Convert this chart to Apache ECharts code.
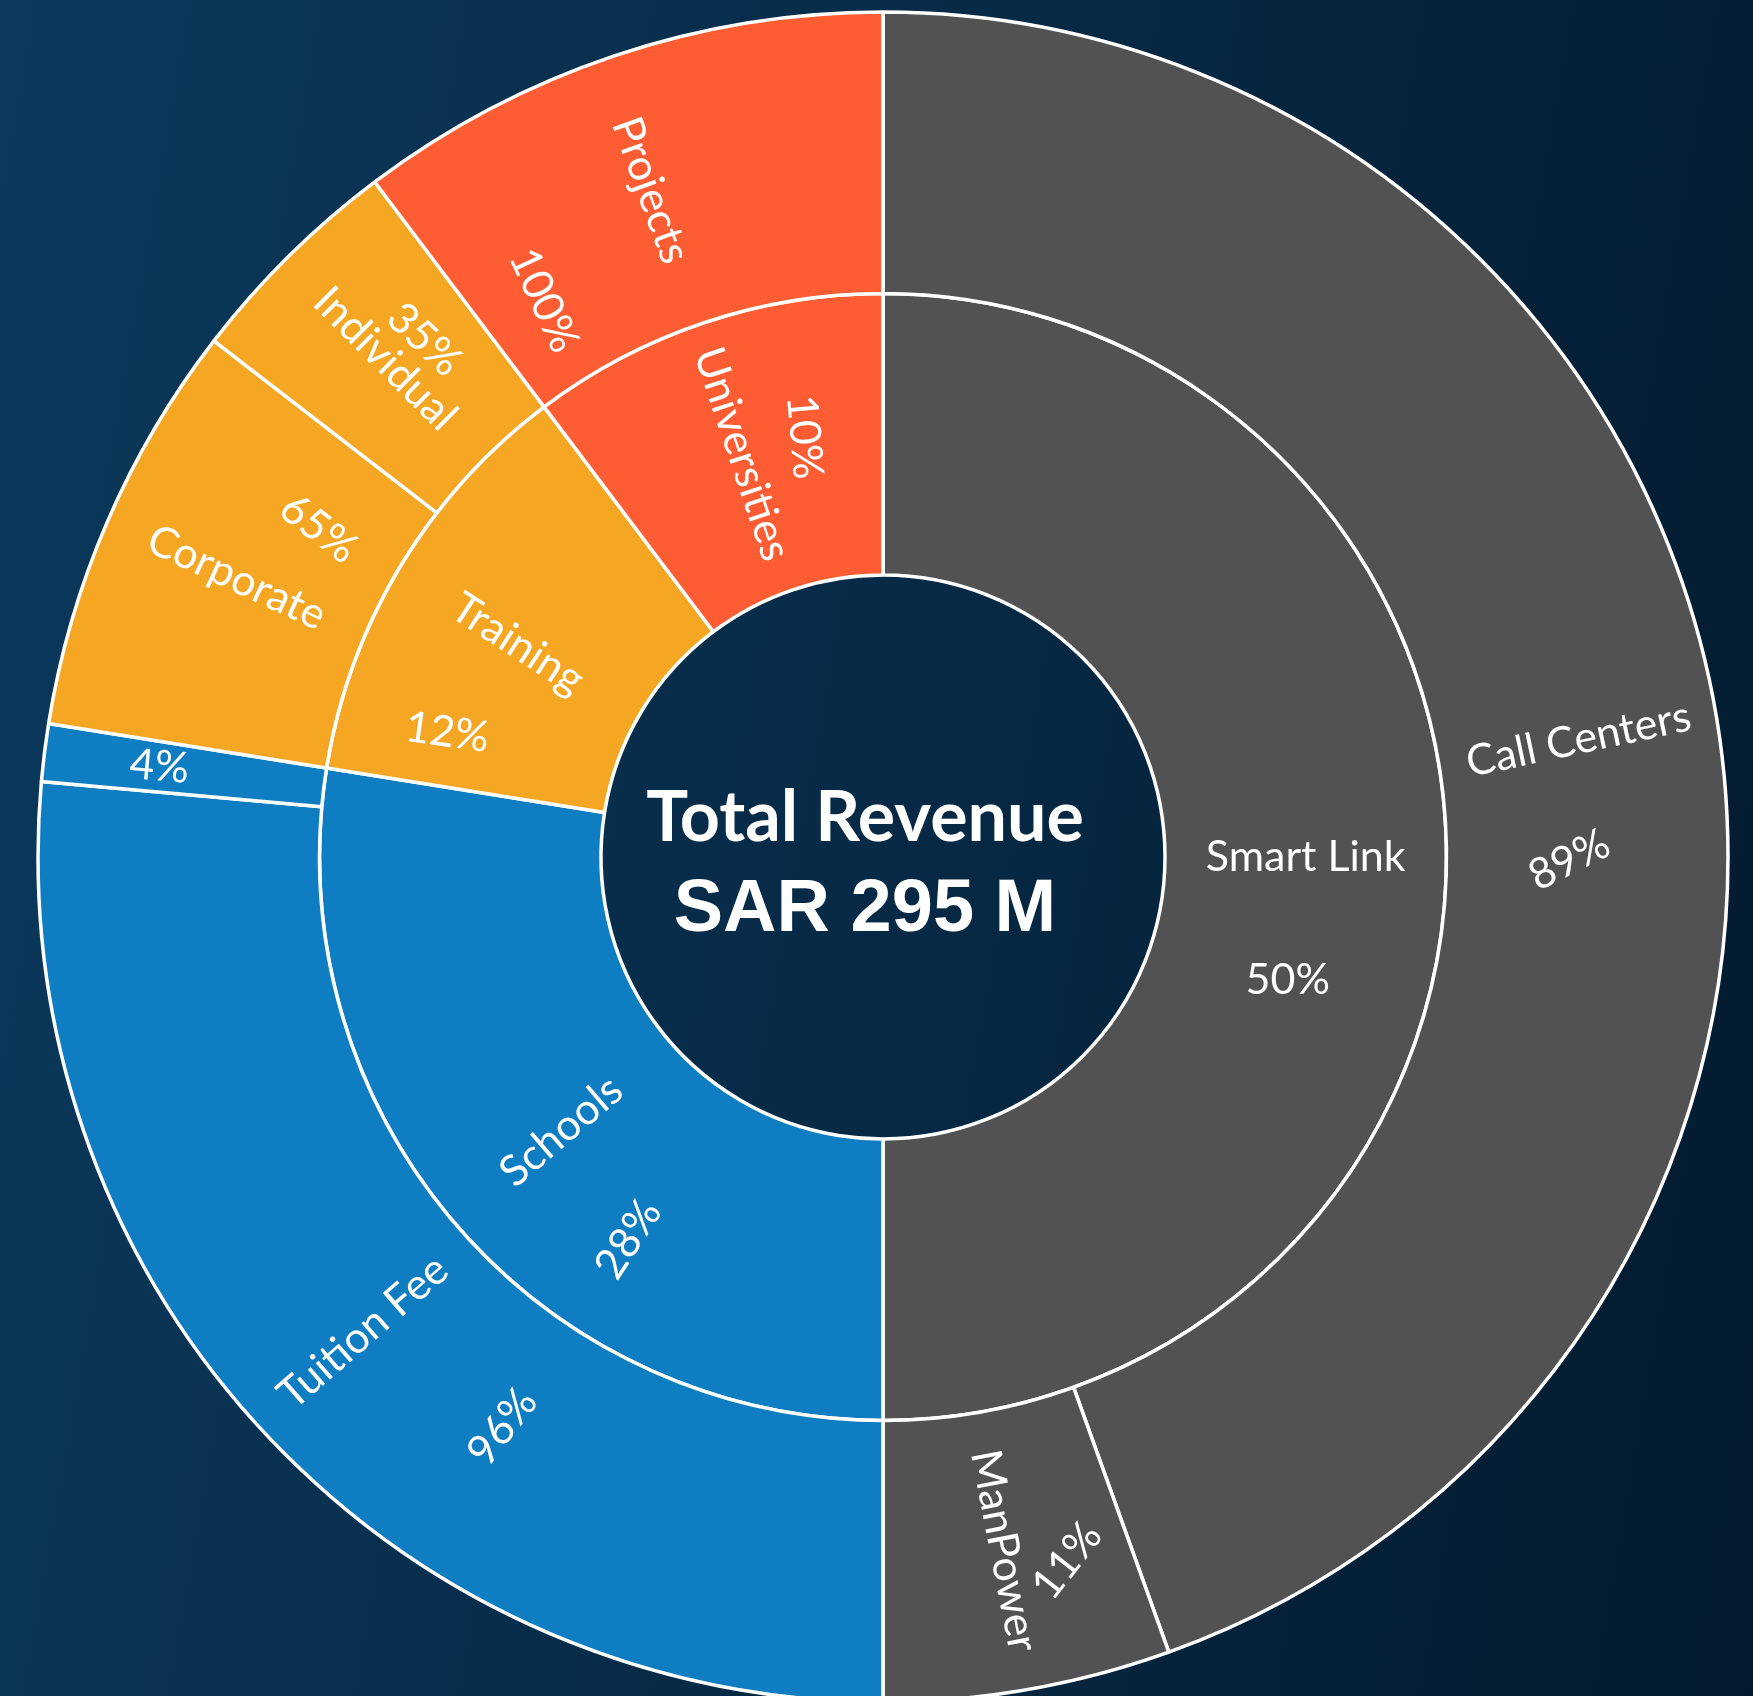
<!DOCTYPE html>
<html>
<head>
<meta charset="utf-8">
<title>Total Revenue</title>
<script src="https://cdn.jsdelivr.net/npm/echarts@6/dist/echarts.min.js"></script>
<style>
  html, body { margin: 0; padding: 0; }
  body {
    width: 1753px; height: 1696px; overflow: hidden;
    background: linear-gradient(100deg, #0b3a5d 0%, #072b48 45%, #031a2e 100%);
  }
  #chart { width: 1753px; height: 1696px; }
</style>
</head>
<body>
<div id="chart"></div>
<script>
// Revenue by business segment and stream (SAR millions)
const segments = ['Smart Link', 'Schools', 'Training', 'Universities'];
const streamNames = [
  ['Call Centers', 'ManPower'],
  ['Tuition Fee', 'Other'],
  ['Corporate', 'Individual'],
  ['Projects']
];
const streamRevenue = [
  [131.3, 16.2],
  [77.95, 3.25],
  [23.4, 12.6],
  [30.3]
];

// Styling
const segmentColors = ['#525252', '#0e7dc2', '#f5a623', '#fe5d34'];
const FONT = 'Lato';
const CENTER = [883, 857];
const RADIUS = [282, 845];

// Per-node label orientation (degrees, anticlockwise) and nudge in the label's own frame
const nameLabelStyle = {
  'Smart Link':   { rotate: 0,     shift: [0, 0] },
  'Schools':      { rotate: 40.5,  shift: [0, 0] },
  'Training':     { rotate: -33,   shift: [0, 6] },
  'Universities': { rotate: -71.5, shift: [-4, 6] },
  'Call Centers': { rotate: 12,    shift: [1, 4] },
  'ManPower':     { rotate: -79,   shift: [0, 0] },
  'Tuition Fee':  { rotate: 41,    shift: [0, 0] },
  'Corporate':    { rotate: -25,   shift: [0, 0] },
  'Individual':   { rotate: -45,   shift: [0, 4] },
  'Projects':     { rotate: -70,   shift: [-2, 9] }
};
const shareLabelStyle = {
  'Smart Link':   { rotate: 0,     shift: [-18, 123] },
  'Schools':      { rotate: 57,    shift: [-54, 115] },
  'Training':     { rotate: -8,    shift: [-60, 103] },
  'Universities': { rotate: -85,   shift: [-14, -57] },
  'Call Centers': { rotate: 27,    shift: [-63, 107] },
  'ManPower':     { rotate: 52,    shift: [31, 56] },
  'Tuition Fee':  { rotate: 52,    shift: [11, 168] },
  'Other':        { rotate: -5,    shift: [-25, -1] },
  'Corporate':    { rotate: -37.7, shift: [35, -89] },
  'Individual':   { rotate: -43.5, shift: [15, -37] },
  'Projects':     { rotate: -65,   shift: [52, 152] }
};

const sum = arr => arr.reduce((a, b) => a + b, 0);
const totalRevenue = sum(streamRevenue.map(sum));

// Move the text inside its (rotated) box by padding the opposite side
function shiftPadding(shift) {
  const dx = shift[0], dy = shift[1];
  return [Math.max(2 * dy, 0), Math.max(-2 * dx, 0), Math.max(-2 * dy, 0), Math.max(2 * dx, 0)];
}

function nodeLabel(kind, name, share) {
  const st = (kind === 'name' ? nameLabelStyle : shareLabelStyle)[name];
  if (!st) return { show: false };
  const text = kind === 'name' ? name : Math.round(share * 100) + '%';
  return {
    show: true,
    rotate: st.rotate,
    formatter: '{v|' + text + '}',
    rich: {
      v: {
        fontFamily: FONT,
        fontSize: 43,
        color: '#ffffff',
        padding: shiftPadding(st.shift)
      }
    }
  };
}

function buildTree(kind) {
  const fill = i => (kind === 'name' ? segmentColors[i] : 'rgba(0,0,0,0)');
  return segments.map((seg, i) => {
    const segTotal = sum(streamRevenue[i]);
    return {
      name: seg,
      itemStyle: { color: fill(i) },
      label: nodeLabel(kind, seg, segTotal / totalRevenue),
      children: streamNames[i].map((n, j) => ({
        name: n,
        value: streamRevenue[i][j],
        itemStyle: { color: fill(i) },
        label: nodeLabel(kind, n, streamRevenue[i][j] / segTotal)
      }))
    };
  });
}

const baseLabel = {
  fontFamily: FONT,
  fontSize: 43,
  color: '#ffffff',
  align: 'center',
  verticalAlign: 'middle'
};

const chart = echarts.init(document.getElementById('chart'), null, { renderer: 'canvas' });
chart.setOption({
  backgroundColor: 'transparent',
  animation: false,
  series: [
    {
      // centre caption
      type: 'pie',
      center: CENTER,
      radius: [0, RADIUS[0] - 2],
      silent: true,
      z: 1,
      itemStyle: { color: 'rgba(0,0,0,0)' },
      labelLine: { show: false },
      label: {
        show: true,
        position: 'center',
        padding: [15, 36, 0, 0],
        formatter: '{t|Total Revenue}\n{s|SAR ' + Math.round(totalRevenue) + ' M}',
        rich: {
          t: { fontFamily: FONT, fontWeight: 'bold', fontSize: 70, color: '#ffffff', lineHeight: 93, align: 'center' },
          s: { fontFamily: 'Liberation Sans', fontWeight: 'bold', fontSize: 74, color: '#ffffff', lineHeight: 93, align: 'center' }
        }
      },
      data: [{ name: 'Total Revenue', value: totalRevenue }]
    },
    {
      // segments and streams with their names
      type: 'sunburst',
      center: CENTER,
      radius: RADIUS,
      sort: null,
      startAngle: 90,
      z: 2,
      nodeClick: false,
      emphasis: { disabled: true },
      itemStyle: { borderColor: '#ffffff', borderWidth: 3.5 },
      label: baseLabel,
      data: buildTree('name')
    },
    {
      // share of parent for each node
      type: 'sunburst',
      center: CENTER,
      radius: RADIUS,
      sort: null,
      startAngle: 90,
      z: 3,
      silent: true,
      nodeClick: false,
      emphasis: { disabled: true },
      itemStyle: { borderWidth: 0, color: 'rgba(0,0,0,0)' },
      label: baseLabel,
      data: buildTree('share')
    }
  ]
});
</script>
</body>
</html>
